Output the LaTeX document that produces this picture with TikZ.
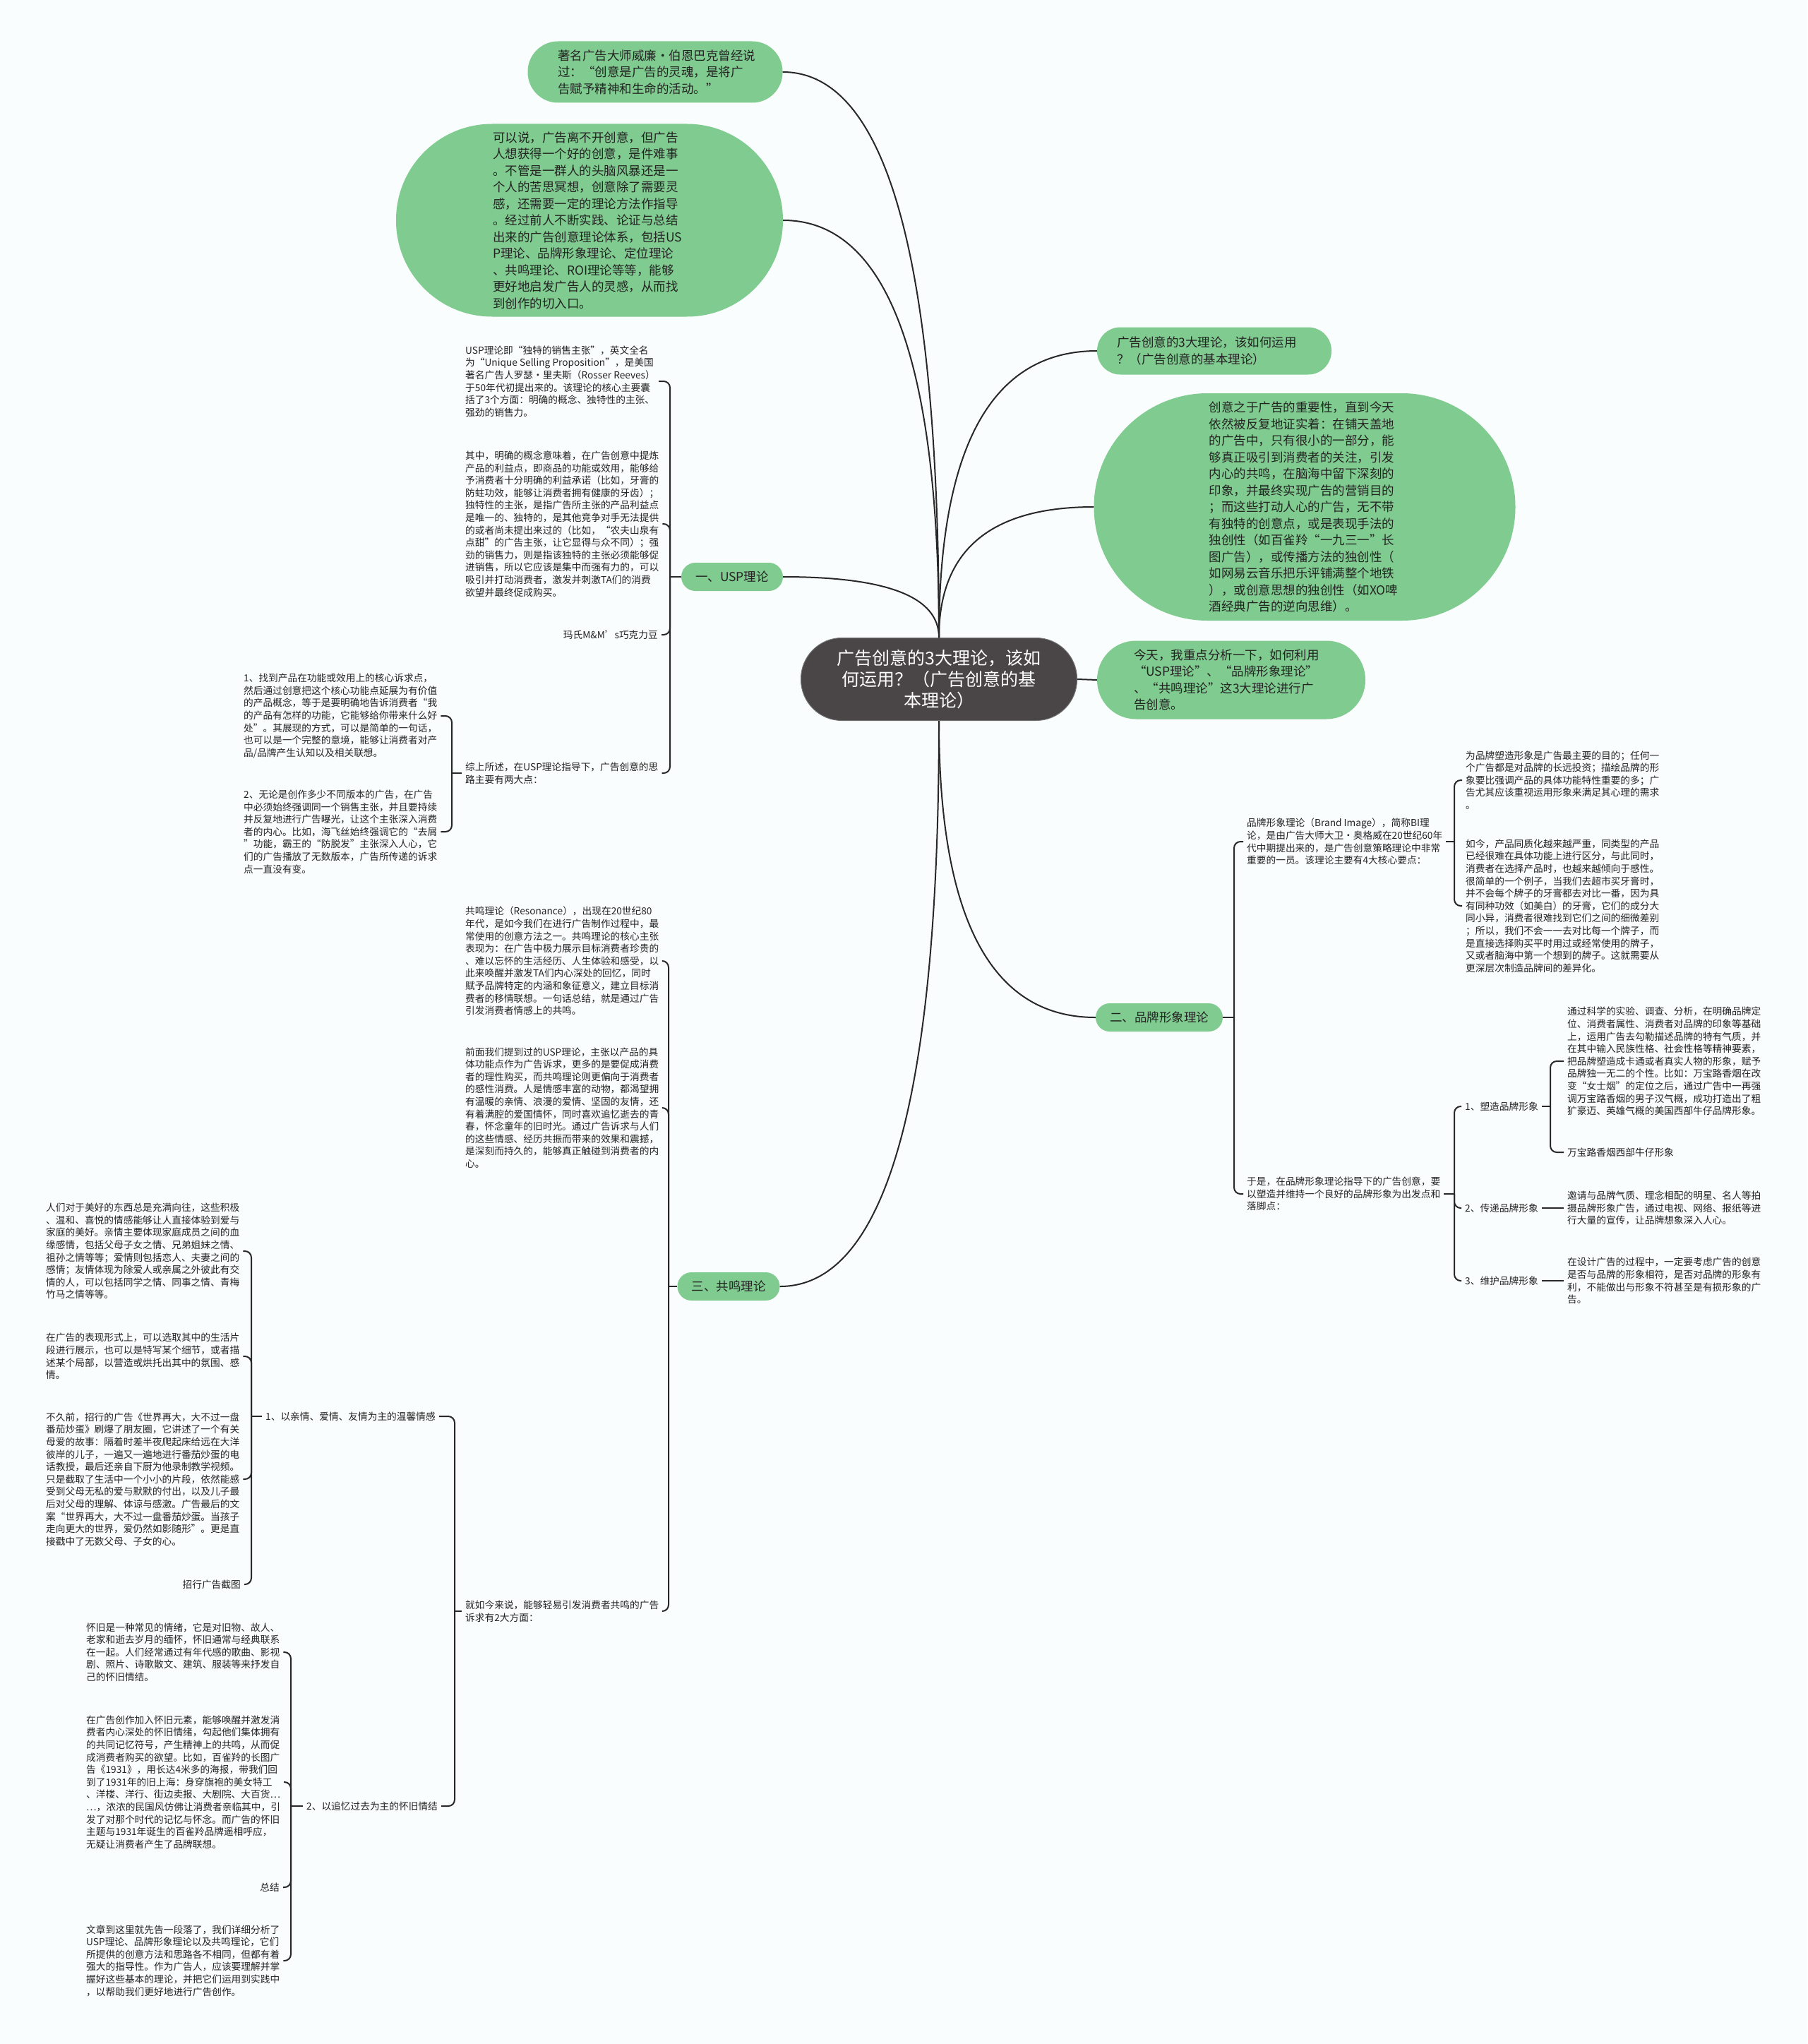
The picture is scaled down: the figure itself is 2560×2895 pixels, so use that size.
\documentclass[tikz,border=0pt]{standalone}
\usepackage{fontspec}
\setmainfont{Noto Sans CJK SC}
\usepackage{tikz}

\definecolor{leaf}{RGB}{128,203,143}
\definecolor{coredark}{RGB}{74,69,70}
\definecolor{wire}{RGB}{40,40,40}
\definecolor{ink}{RGB}{35,35,35}
\definecolor{paper}{RGB}{250,253,253}

\newcommand{\notefont}{\fontsize{13.7pt}{17.6pt}\selectfont}
\newcommand{\bubblefont}{\fontsize{17.5pt}{23.5pt}\selectfont}
\newcommand{\corefont}{\fontsize{25pt}{30pt}\selectfont}

\begin{document}
\begin{tikzpicture}[
  x=1pt, y=-1pt,
  bubble/.style={fill=leaf, text=ink, rounded corners=#1, inner sep=0pt, align=left, font=\bubblefont},
  topic/.style={fill=leaf, text=ink, rounded corners=20pt, minimum height=40pt, inner xsep=20pt, inner ysep=0pt, font=\bubblefont},
  note/.style={text=ink, align=left, inner xsep=5pt, inner ysep=0pt, font=\notefont},
  link/.style={draw=wire, line width=2pt},
  hook/.style={draw=wire, line width=2pt, rounded corners=9pt}
]
\fill[paper] (0,0) rectangle (2560,2895);
\useasboundingbox (0,0) rectangle (2560,2895);

\node[fill=coredark, draw=black!55, line width=1pt, text=white, rounded corners=58pt, minimum width=391pt, minimum height=117pt, inner sep=0pt, align=center, font=\corefont] (core) at (1330,962) {广告创意的3大理论，该如\\何运用？（广告创意的基\\本理论）};

\node[bubble=43pt, minimum width=361pt, minimum height=87pt, text width=276pt] (quote) at (928,102) {著名广告大师威廉·伯恩巴克曾经说\\过：“创意是广告的灵魂，是将广\\告赋予精神和生命的活动。”};
\node[bubble=136pt, minimum width=548pt, minimum height=273pt, text width=274pt] (intro) at (835,312) {可以说，广告离不开创意，但广告\\人想获得一个好的创意，是件难事\\。不管是一群人的头脑风暴还是一\\个人的苦思冥想，创意除了需要灵\\感，还需要一定的理论方法作指导\\。经过前人不断实践、论证与总结\\出来的广告创意理论体系，包括US\\P理论、品牌形象理论、定位理论\\、共鸣理论、ROI理论等等，能够\\更好地启发广告人的灵感，从而找\\到创作的切入口。};
\node[bubble=33pt, minimum width=332pt, minimum height=67pt, text width=276pt] (title) at (1720,497) {广告创意的3大理论，该如何运用\\？（广告创意的基本理论）};
\node[bubble=161pt, minimum width=597pt, minimum height=322pt, text width=271pt] (impact) at (1848,718) {创意之于广告的重要性，直到今天\\依然被反复地证实着：在铺天盖地\\的广告中，只有很小的一部分，能\\够真正吸引到消费者的关注，引发\\内心的共鸣，在脑海中留下深刻的\\印象，并最终实现广告的营销目的\\；而这些打动人心的广告，无不带\\有独特的创意点，或是表现手法的\\独创性（如百雀羚“一九三一”长\\图广告），或传播方法的独创性（\\如网易云音乐把乐评铺满整个地铁\\），或创意思想的独创性（如XO啤\\酒经典广告的逆向思维）。};
\node[bubble=55pt, minimum width=380pt, minimum height=111pt, text width=276pt] (today) at (1744,963) {今天，我重点分析一下，如何利用\\“USP理论”、“品牌形象理论”\\、“共鸣理论”这3大理论进行广\\告创意。};

\node[topic] (usp) at (1037,817) {一、USP理论};
\node[topic] (image) at (1642,1441) {二、品牌形象理论};
\node[topic] (echo) at (1032,1822) {三、共鸣理论};

\node[note, anchor=west] (uspA) at (654,540) {USP理论即“独特的销售主张”，英文全名\\为“Unique Selling Proposition”，是美国\\著名广告人罗瑟·里夫斯（Rosser Reeves）\\于50年代初提出来的。该理论的核心主要囊\\括了3个方面：明确的概念、独特性的主张、\\强劲的销售力。};
\node[note, anchor=west] (uspB) at (654,742) {其中，明确的概念意味着，在广告创意中提炼\\产品的利益点，即商品的功能或效用，能够给\\予消费者十分明确的利益承诺（比如，牙膏的\\防蛀功效，能够让消费者拥有健康的牙齿）；\\独特性的主张，是指广告所主张的产品利益点\\是唯一的、独特的，是其他竞争对手无法提供\\的或者尚未提出来过的（比如，“农夫山泉有\\点甜”的广告主张，让它显得与众不同）；强\\劲的销售力，则是指该独特的主张必须能够促\\进销售，所以它应该是集中而强有力的，可以\\吸引并打动消费者，激发并刺激TA们的消费\\欲望并最终促成购买。};
\node[note, anchor=east] (mm) at (937,899) {玛氏M\&M’s巧克力豆};
\node[note, anchor=west] (usum) at (654,1095) {综上所述，在USP理论指导下，广告创意的思\\路主要有两大点：};
\node[note, anchor=west] (usumA) at (340,1014) {1、找到产品在功能或效用上的核心诉求点，\\然后通过创意把这个核心功能点延展为有价值\\的产品概念，等于是要明确地告诉消费者“我\\的产品有怎样的功能，它能够给你带来什么好\\处”。其展现的方式，可以是简单的一句话，\\也可以是一个完整的意境，能够让消费者对产\\品/品牌产生认知以及相关联想。};
\node[note, anchor=west] (usumB) at (340,1178) {2、无论是创作多少不同版本的广告，在广告\\中必须始终强调同一个销售主张，并且要持续\\并反复地进行广告曝光，让这个主张深入消费\\者的内心。比如，海飞丝始终强调它的“去屑\\”功能，霸王的“防脱发”主张深入人心，它\\们的广告播放了无数版本，广告所传递的诉求\\点一直没有变。};

\node[note, anchor=west] (resA) at (654,1361) {共鸣理论（Resonance），出现在20世纪80\\年代，是如今我们在进行广告制作过程中，最\\常使用的创意方法之一。共鸣理论的核心主张\\表现为：在广告中极力展示目标消费者珍贵的\\、难以忘怀的生活经历、人生体验和感受，以\\此来唤醒并激发TA们内心深处的回忆，同时\\赋予品牌特定的内涵和象征意义，建立目标消\\费者的移情联想。一句话总结，就是通过广告\\引发消费者情感上的共鸣。};
\node[note, anchor=west] (resB) at (654,1569) {前面我们提到过的USP理论，主张以产品的具\\体功能点作为广告诉求，更多的是要促成消费\\者的理性购买，而共鸣理论则更偏向于消费者\\的感性消费。人是情感丰富的动物，都渴望拥\\有温暖的亲情、浪漫的爱情、坚固的友情，还\\有着满腔的爱国情怀，同时喜欢追忆逝去的青\\春，怀念童年的旧时光。通过广告诉求与人们\\的这些情感、经历共振而带来的效果和震撼，\\是深刻而持久的，能够真正触碰到消费者的内\\心。};
\node[note, anchor=west] (resC) at (654,2282) {就如今来说，能够轻易引发消费者共鸣的广告\\诉求有2大方面：};
\node[note, anchor=west] (feelA) at (371,2006) {1、以亲情、爱情、友情为主的温馨情感};
\node[note, anchor=west] (feelB) at (429,2558) {2、以追忆过去为主的怀旧情结};

\node[note, anchor=west] (loveA) at (60,1772) {人们对于美好的东西总是充满向往，这些积极\\、温和、喜悦的情感能够让人直接体验到爱与\\家庭的美好。亲情主要体现家庭成员之间的血\\缘感情，包括父母子女之情、兄弟姐妹之情、\\祖孙之情等等；爱情则包括恋人、夫妻之间的\\感情；友情体现为除爱人或亲属之外彼此有交\\情的人，可以包括同学之情、同事之情、青梅\\竹马之情等等。};
\node[note, anchor=west] (loveB) at (60,1921) {在广告的表现形式上，可以选取其中的生活片\\段进行展示，也可以是特写某个细节，或者描\\述某个局部，以营造或烘托出其中的氛围、感\\情。};
\node[note, anchor=west] (loveC) at (60,2095) {不久前，招行的广告《世界再大，大不过一盘\\番茄炒蛋》刷爆了朋友圈，它讲述了一个有关\\母爱的故事：隔着时差半夜爬起床给远在大洋\\彼岸的儿子，一遍又一遍地进行番茄炒蛋的电\\话教授，最后还亲自下厨为他录制教学视频。\\只是截取了生活中一个小小的片段，依然能感\\受到父母无私的爱与默默的付出，以及儿子最\\后对父母的理解、体谅与感激。广告最后的文\\案“世界再大，大不过一盘番茄炒蛋。当孩子\\走向更大的世界，爱仍然如影随形”。更是直\\接戳中了无数父母、子女的心。};
\node[note, anchor=east] (shot) at (346,2244) {招行广告截图};

\node[note, anchor=west] (oldA) at (117,2340) {怀旧是一种常见的情绪，它是对旧物、故人、\\老家和逝去岁月的缅怀，怀旧通常与经典联系\\在一起。人们经常通过有年代感的歌曲、影视\\剧、照片、诗歌散文、建筑、服装等来抒发自\\己的怀旧情结。};
\node[note, anchor=west] (oldB) at (117,2524) {在广告创作加入怀旧元素，能够唤醒并激发消\\费者内心深处的怀旧情绪，勾起他们集体拥有\\的共同记忆符号，产生精神上的共鸣，从而促\\成消费者购买的欲望。比如，百雀羚的长图广\\告《1931》，用长达4米多的海报，带我们回\\到了1931年的旧上海：身穿旗袍的美女特工\\、洋楼、洋行、街边卖报、大剧院、大百货…\\…，浓浓的民国风仿佛让消费者亲临其中，引\\发了对那个时代的记忆与怀念。而广告的怀旧\\主题与1931年诞生的百雀羚品牌遥相呼应，\\无疑让消费者产生了品牌联想。};
\node[note, anchor=east] (wrap) at (401,2673) {总结};
\node[note, anchor=west] (oldC) at (117,2777) {文章到这里就先告一段落了，我们详细分析了\\USP理论、品牌形象理论以及共鸣理论，它们\\所提供的创意方法和思路各不相同，但都有着\\强大的指导性。作为广告人，应该要理解并掌\\握好这些基本的理论，并把它们运用到实践中\\，以帮助我们更好地进行广告创作。};

\node[note, anchor=west] (biA) at (1761,1192) {品牌形象理论（Brand Image），简称BI理\\论，是由广告大师大卫·奥格威在20世纪60年\\代中期提出来的，是广告创意策略理论中非常\\重要的一员。该理论主要有4大核心要点：};
\node[note, anchor=west] (biB) at (1761,1691) {于是，在品牌形象理论指导下的广告创意，要\\以塑造并维持一个良好的品牌形象为出发点和\\落脚点：};
\node[note, anchor=west] (goalA) at (2071,1105) {为品牌塑造形象是广告最主要的目的；任何一\\个广告都是对品牌的长远投资；描绘品牌的形\\象要比强调产品的具体功能特性重要的多；广\\告尤其应该重视运用形象来满足其心理的需求\\。};
\node[note, anchor=west] (goalB) at (2071,1283) {如今，产品同质化越来越严重，同类型的产品\\已经很难在具体功能上进行区分，与此同时，\\消费者在选择产品时，也越来越倾向于感性。\\很简单的一个例子，当我们去超市买牙膏时，\\并不会每个牌子的牙膏都去对比一番，因为具\\有同种功效（如美白）的牙膏，它们的成分大\\同小异，消费者很难找到它们之间的细微差别\\；所以，我们不会一一去对比每一个牌子，而\\是直接选择购买平时用过或经常使用的牌子，\\又或者脑海中第一个想到的牌子。这就需要从\\更深层次制造品牌间的差异化。};
\node[note, anchor=west] (stepA) at (2070,1567) {1、塑造品牌形象};
\node[note, anchor=west] (stepB) at (2070,1711) {2、传递品牌形象};
\node[note, anchor=west] (stepC) at (2070,1814) {3、维护品牌形象};
\node[note, anchor=west] (shapeA) at (2215,1503) {通过科学的实验、调查、分析，在明确品牌定\\位、消费者属性、消费者对品牌的印象等基础\\上，运用广告去勾勒描述品牌的特有气质，并\\在其中输入民族性格、社会性格等精神要素，\\把品牌塑造成卡通或者真实人物的形象，赋予\\品牌独一无二的个性。比如：万宝路香烟在改\\变“女士烟”的定位之后，通过广告中一再强\\调万宝路香烟的男子汉气概，成功打造出了粗\\犷豪迈、英雄气概的美国西部牛仔品牌形象。};
\node[note, anchor=west] (shapeB) at (2215,1632) {万宝路香烟西部牛仔形象};
\node[note, anchor=west] (spread) at (2215,1711) {邀请与品牌气质、理念相配的明星、名人等拍\\摄品牌形象广告，通过电视、网络、报纸等进\\行大量的宣传，让品牌想象深入人心。};
\node[note, anchor=west] (guard) at (2215,1814) {在设计广告的过程中，一定要考虑广告的创意\\是否与品牌的形象相符，是否对品牌的形象有\\利，不能做出与形象不符甚至是有损形象的广\\告。};

\coordinate (uspT) at (949,817);
\coordinate (usumT) at (640,1095);
\coordinate (echoT) at (947,1822);
\coordinate (resCT) at (644,2282);
\coordinate (feelAT) at (356,2006);
\coordinate (feelBT) at (412,2558);
\coordinate (imageT) at (1748,1441);
\coordinate (biAT) at (2060,1192);
\coordinate (biBT) at (2060,1691);
\coordinate (stepAT) at (2196,1567);

\draw[link] (core.north) .. controls +(0,-534) and +(148,0) .. (quote.east);
\draw[link] (core.north) .. controls +(0,-394) and +(147,0) .. (intro.east);
\draw[link] (core.north) .. controls +(0,-58) and +(147,0) .. (usp.east);
\draw[link] (core.north) .. controls +(0,-271) and +(-149,0) .. (title.west);
\draw[link] (core.north) .. controls +(0,-124) and +(-146,0) .. (impact.west);
\draw[link] (core.east) -- (today.west);
\draw[link] (core.south) .. controls +(0,280) and +(-148,0) .. (image.west);
\draw[link] (core.south) .. controls +(0,534) and +(150,0) .. (echo.east);

\draw[link] (usp.west) -- (uspT);
\draw[hook] (uspT) |- (uspA.east);
\draw[hook] (uspT) |- (uspB.east);
\draw[hook] (uspT) |- (mm.east);
\draw[hook] (uspT) |- (usum.east);
\draw[link] (usum.west) -- (usumT);
\draw[hook] (usumT) |- (usumA.east);
\draw[hook] (usumT) |- (usumB.east);

\draw[link] (echo.west) -- (echoT);
\draw[hook] (echoT) |- (resA.east);
\draw[hook] (echoT) |- (resB.east);
\draw[hook] (echoT) |- (resC.east);
\draw[link] (resC.west) -- (resCT);
\draw[hook] (resCT) |- (feelA.east);
\draw[hook] (resCT) |- (feelB.east);
\draw[link] (feelA.west) -- (feelAT);
\draw[hook] (feelAT) |- (loveA.east);
\draw[hook] (feelAT) |- (loveB.east);
\draw[hook] (feelAT) |- (loveC.east);
\draw[hook] (feelAT) |- (shot.east);
\draw[link] (feelB.west) -- (feelBT);
\draw[hook] (feelBT) |- (oldA.east);
\draw[hook] (feelBT) |- (oldB.east);
\draw[hook] (feelBT) |- (wrap.east);
\draw[hook] (feelBT) |- (oldC.east);

\draw[link] (image.east) -- (imageT);
\draw[hook] (imageT) |- (biA.west);
\draw[hook] (imageT) |- (biB.west);
\draw[link] (biA.east) -- (biAT);
\draw[hook] (biAT) |- (goalA.west);
\draw[hook] (biAT) |- (goalB.west);
\draw[link] (biB.east) -- (biBT);
\draw[hook] (biBT) |- (stepA.west);
\draw[hook] (biBT) |- (stepB.west);
\draw[hook] (biBT) |- (stepC.west);
\draw[link] (stepA.east) -- (stepAT);
\draw[hook] (stepAT) |- (shapeA.west);
\draw[hook] (stepAT) |- (shapeB.west);
\draw[link] (stepB.east) -- (spread.west);
\draw[link] (stepC.east) -- (guard.west);
\end{tikzpicture}
\end{document}
